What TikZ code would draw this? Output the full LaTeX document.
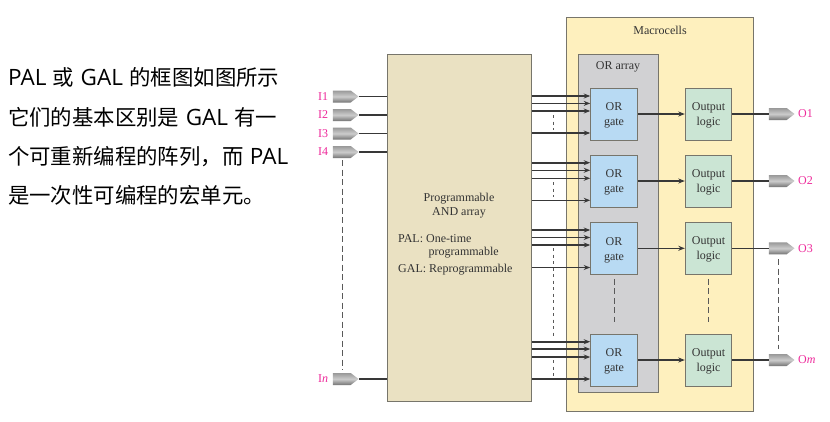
\documentclass[tikz,border=0pt]{standalone}
\usepackage{fontspec}
\setmainfont{Liberation Serif}
\newfontfamily\cjkfont{Noto Sans CJK SC}
\newfontfamily\latfont{Open Sans}
\newcommand\latrun[1]{\hspace{6.4pt}{\latfont\fontsize{22.5}{39.4}\selectfont #1}\hspace{6.4pt}}
\usetikzlibrary{arrows.meta,shapes.symbols}
\definecolor{edgegray}{HTML}{77756B}
\definecolor{andfill}{HTML}{EAE1C2}
\definecolor{macrofill}{HTML}{FEF0BE}
\definecolor{orfill}{HTML}{D1D1D3}
\definecolor{gatefill}{HTML}{B8DAF3}
\definecolor{logicfill}{HTML}{CBE5D4}
\definecolor{pinkish}{HTML}{EE2A9B}
\definecolor{ink}{HTML}{333333}
\tikzset{
  box/.style={draw=edgegray,line width=1pt,rectangle,inner sep=0pt,text=ink,font=\fontsize{12}{15}\selectfont,align=center},
  gatebox/.style={box,fill=gatefill,minimum width=46.6pt,minimum height=52pt},
  logicbox/.style={box,fill=logicfill,minimum width=46.4pt,minimum height=52pt},
  wire/.style={draw=black!78,line width=1.6pt},
  arrowwire/.style={wire,-{Stealth[length=6.5pt,width=5pt]}},
  dashline/.style={draw=black!65,line width=1pt,dash pattern=on 6pt off 3.5pt},
  dotline/.style={draw=black!65,line width=0.9pt,dash pattern=on 3pt off 3.5pt},
  pin/.style={signal,signal to=east,signal from=nowhere,signal pointer angle=75,inner sep=0pt,
    minimum width=25.6pt,minimum height=12pt,draw=none,top color=black!40,bottom color=black!55,middle color=black!20},
  pinlabel/.style={text=pinkish,font=\fontsize{12}{14}\selectfont,inner sep=0pt},
  plain/.style={text=ink,font=\fontsize{12}{14}\selectfont,inner sep=0pt}
}
\begin{document}
\begin{tikzpicture}[x=1pt,y=-1pt]
\useasboundingbox[fill=white] (0,0) rectangle (830,421);
% left text
\node[anchor=north west,inner sep=0pt,align=left,font=\fontsize{21.4}{39.4}\selectfont\cjkfont] (txt) at (8,67.5)
 {\hspace{-6.4pt}\latrun{PAL}或\latrun{GAL}的框图如图所示\\
  它们的基本区别是\latrun{GAL}有一\\
  个可重新编程的阵列，而\latrun{PAL}\\
  是一次性可编程的宏单元。};
% containers
\node[box,fill=macrofill,minimum width=187.7pt,minimum height=394.7pt] (macro) at (659.85,214.35) {};
\node[box,fill=orfill,minimum width=80.2pt,minimum height=338pt] (orarr) at (618.6,223) {};
\node[box,fill=andfill,minimum width=144.5pt,minimum height=347pt] (and) at (459.25,227.5) {};
\node[plain] (mtitle) at (660,30) {Macrocells};
\node[plain] (otitle) at (618,67) {OR array};
% AND text
\node[plain,align=center] (andt) at (459,205.5) {Programmable\\AND array};
\node[plain,anchor=west] (palt) at (398,239) {PAL: One-time};
\node[plain,anchor=west] (palu) at (428.5,253) {programmable};
\node[plain,anchor=west] (galt) at (398,270) {GAL: Reprogrammable};
% gates and logic
\foreach \n/\y/\a/\b/\c/\d in {1/114/96/103.4/111/133,2/181/162.7/170.3/178.3/200.3,3/248.3/230/237.5/245/267.5,4/360/341.7/349/357/379}{
  \node[gatebox] (g\n) at (614,\y) {\rule{0pt}{11pt}OR\\gate};
  \node[logicbox] (l\n) at (708.5,\y) {\rule{0pt}{10pt}Output\\logic};
  \foreach \w in {\a,\b,\c,\d}{
    \draw[arrowwire] (and.east |- 0,\w) -- (g\n.west |- 0,\w);
  }
  \draw[arrowwire] (g\n) -- (l\n);
}
% inputs
\foreach \n/\t/\y in {i1/I1/96.5,i2/I2/115,i3/I3/133.5,i4/I4/152,in/{I\textit{n}}/379}{
  \node[pin,anchor=west] (\n) at (332.7,\y) {};
  \node[pinlabel,anchor=west] at (318,\y) {\t};
  \draw[wire] (\n.east) -- (and.west |- \n.east);
}
% outputs
\foreach \n/\t/\k in {o1/O1/1,o2/O2/2,o3/O3/3,om/{O\textit{m}}/4}{
  \node[pin,anchor=west] (\n) at (768.7,0 |- l\k.east) {};
  \node[pinlabel,anchor=west] at (798,0 |- l\k.east) {\t};
  \draw[wire] (l\k.east) -- (\n.west);
}
% omission marks
\coordinate (da) at (342,160); \coordinate (db) at (342,370);
\draw[dashline] (da) -- (db);
\coordinate (oa) at (778.7,259); \coordinate (ob) at (778.7,349);
\draw[dashline] (oa) -- (ob);
\draw[dashline] ([yshift=-4pt]g3.south) -- ([yshift=12pt]g4.north);
\draw[dashline] ([yshift=-4pt]l3.south) -- ([yshift=12pt]l4.north);
\foreach \s/\e in {115/130,182/197,248/337,360/376}{
  \coordinate (sa) at (553.3,\s); \coordinate (sb) at (553.3,\e);
  \draw[dotline] (sa) -- (sb);
}
\end{tikzpicture}
\end{document}
